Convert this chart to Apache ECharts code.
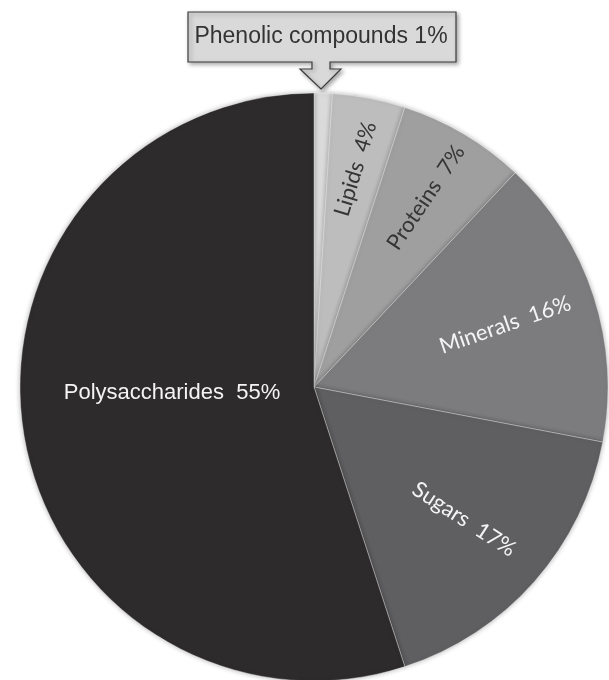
<!DOCTYPE html>
<html>
<head>
<meta charset="utf-8">
<script src="https://cdn.jsdelivr.net/npm/echarts@6/dist/echarts.min.js"></script>
<style>
  html, body { margin: 0; padding: 0; background: #ffffff; }
  #chart { width: 609px; height: 680px; }
</style>
</head>
<body>
<div id="chart"></div>
<script>
// Composition shares, clockwise from 12 o'clock
const categories = ['Phenolic compounds', 'Lipids', 'Proteins', 'Minerals', 'Sugars', 'Polysaccharides'];
const values = [1, 4, 7, 16, 17, 55];

// Styling
const sliceColors = ['#dadadb', '#bdbdbe', '#9f9fa0', '#7c7c7e', '#5f5f61', '#2e2b2c'];
const labelColors = ['#333333', '#353535', '#353535', '#f4f4f4', '#f4f4f4', '#f4f4f4'];
const labelRotate = [0, 73, 56, 19, -33, 0];
const CX = 314, CY = 387, R = 294;
// distance of each rotated label from the pie centre
const labelRadius = { 1: 222, 2: 220, 3: 201, 4: 200 };

const total = values.reduce((a, b) => a + b, 0);
function midAngle(i) {
  let before = 0;
  for (let k = 0; k < i; k++) before += values[k];
  return (before + values[i] / 2) / total * 2 * Math.PI;
}

const chart = echarts.init(document.getElementById('chart'), null, { renderer: 'canvas' });

const data = categories.map((name, i) => ({
  name,
  value: values[i],
  itemStyle: { color: sliceColors[i] },
  label: {
    color: labelColors[i],
    fontFamily: i === 0 || i === 5 ? 'Liberation Sans, Arial, sans-serif' : 'Lato, sans-serif',
    fontSize: i === 0 ? 23 : 22,
    rotate: labelRotate[i],
    formatter: i === 0 ? '{b} {c}%' : '{b}  {c}%'
  }
}));

chart.setOption({
  animation: false,
  backgroundColor: '#ffffff',
  graphic: [{
    // callout box with a down-pointing arrow for the smallest slice
    type: 'polygon',
    z: 1,
    shape: {
      points: [[188, 12], [456, 12], [456, 62], [330, 62], [330, 69], [341, 69],
               [321, 89], [300, 69], [312, 69], [312, 62], [188, 62]]
    },
    style: {
      fill: '#d9d9d9',
      stroke: '#3c3c3c',
      lineWidth: 1.2,
      shadowBlur: 4,
      shadowOffsetX: 2,
      shadowOffsetY: 2,
      shadowColor: 'rgba(0,0,0,0.35)'
    }
  }],
  series: [{
    type: 'pie',
    z: 2,
    center: [CX, CY],
    radius: [0, R],
    startAngle: 90,
    clockwise: true,
    avoidLabelOverlap: false,
    data,
    itemStyle: {
      borderColor: 'rgba(255,255,255,0.35)',
      borderWidth: 1,
      shadowBlur: 5,
      shadowColor: 'rgba(0,0,0,0.3)'
    },
    label: { show: true, position: 'inside' },
    labelLine: { show: false },
    labelLayout: function (p) {
      const i = p.dataIndex;
      if (i === 0) return { x: 321, y: 37 };
      if (i === 5) return { x: 172, y: 393 };
      const a = midAngle(i), r = labelRadius[i];
      return { x: CX + r * Math.sin(a), y: CY - r * Math.cos(a) };
    }
  }]
});
</script>
</body>
</html>
